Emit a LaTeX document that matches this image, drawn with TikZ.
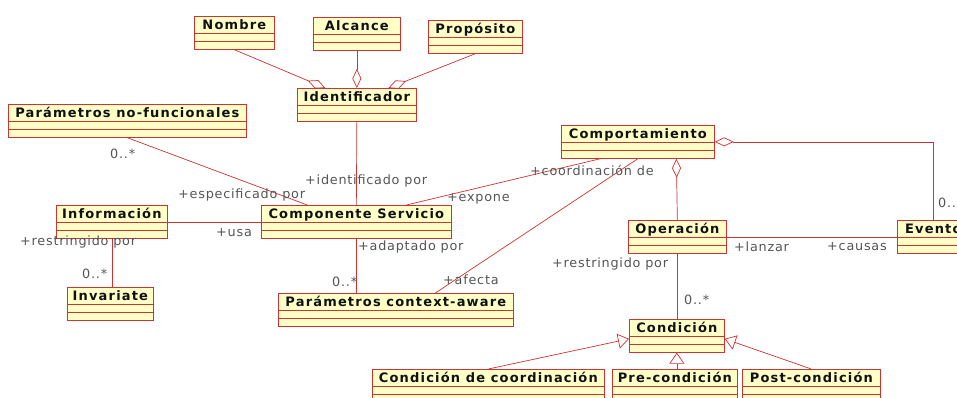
\documentclass[tikz,border=0pt]{standalone}
\usepackage{fontspec}
\setmainfont{DejaVu Sans}
\newfontfamily\umltitlefont{DejaVu Sans}[LetterSpace=9]
\newfontfamily\umlrolefont{DejaVu Sans}[LetterSpace=6]
\usetikzlibrary{arrows.meta}

\definecolor{umlred}{HTML}{CC3333}
\definecolor{umlfill}{HTML}{FFFFC8}
\definecolor{umlink}{HTML}{111111}
\definecolor{umlmute}{HTML}{555555}

% name, left, top, width, title
\newcommand{\umlclass}[5]{%
  \node[umlbox, minimum width=#4pt] (#1) at (#2,#3) {};
  \node[umltitle] (#1-t) at ([yshift=-13pt]#1.north) {#5};
  \draw[assoc] ([yshift=-17pt]#1.north west) -- ([yshift=-17pt]#1.north east)
               ([yshift=-25pt]#1.north west) -- ([yshift=-25pt]#1.north east);
}

\begin{document}
\begin{tikzpicture}[
  x=1pt, y=-1pt,
  umlbox/.style={draw=umlred, fill=umlfill, line width=0.7pt,
    minimum height=33pt, inner sep=0pt, anchor=north west},
  umltitle/.style={font=\umltitlefont\bfseries\fontsize{13}{15}\selectfont,
    text=umlink, inner sep=0pt, anchor=base},
  assoc/.style={draw=umlred, line width=0.7pt},
  aggr/.style={assoc, {Diamond[open,length=19pt,width=9pt]}-},
  gener/.style={assoc, -{Triangle[open,length=11pt,width=15pt]}},
  role/.style={font=\umlrolefont\fontsize{12.8}{14}\selectfont,
    text=umlmute, inner sep=0pt, anchor=west},
]
\useasboundingbox (0,0) rectangle (957,397);
\clip (0,0) rectangle (957,397);

\umlclass{nombre}{194}{16}{80}{Nombre}
\umlclass{alcance}{313}{17}{87}{Alcance}
\umlclass{proposito}{428}{20}{94}{Propósito}
\umlclass{ident}{297}{88}{119}{Identificador}
\umlclass{nofunc}{8}{104}{238}{Parámetros no-funcionales}
\umlclass{info}{56}{205}{111}{Información}
\umlclass{servicio}{261}{205}{190}{Componente Servicio}
\umlclass{invariate}{67}{287}{86}{Invariate}
\umlclass{ctxaware}{278}{293}{235}{Parámetros context-aware}
\umlclass{comport}{561}{125}{153}{Comportamiento}
\umlclass{operacion}{628}{220}{98}{Operación}
\umlclass{evento}{897}{220}{72}{Evento}
\umlclass{condicion}{629}{319}{95}{Condición}
\umlclass{coord}{372}{369}{232}{Condición de coordinación}
\umlclass{precond}{612}{369}{125}{Pre-condición}
\umlclass{postcond}{742}{369}{138}{Post-condición}

% aggregations
\draw[aggr] ([xshift=-31.5pt]ident.north) -- (nombre.south);
\draw[aggr] (ident.north) -- (alcance.south);
\draw[aggr] ([xshift=31.5pt]ident.north) -- (proposito.south);
\draw[aggr] ([xshift=38.5pt]comport.south) -- (operacion.north);
\draw[aggr] (comport.east) -| (evento.north);

% associations
\draw[assoc] (ident.south) -- (servicio.north);
\draw[assoc] (nofunc.south) -- ([xshift=-49pt]servicio.north);
\draw[assoc] (info.east) -- (servicio.west);
\draw[assoc] (info.south) -- (info.south |- invariate.north);
\draw[assoc] (servicio.south) -- (servicio.south |- ctxaware.north);
\draw[assoc] ([xshift=50pt]servicio.north) -- ([xshift=-37.5pt]comport.south);
\draw[assoc] (comport.south) -- ([xshift=39.5pt]ctxaware.north);
\draw[assoc] (operacion.east) -- (evento.west);
\draw[assoc] (operacion.south) -- (operacion.south |- condicion.north);

% generalizations
\draw[gener] (coord.north) -- ([yshift=-3pt]condicion.west);
\draw[gener] (condicion.south |- precond.north) -- (condicion.south);
\draw[gener] (postcond.north) -- ([yshift=-3pt]condicion.east);

% roles and multiplicities
\node[role] (r-ident) at (305,181) {+identificado por};
\node[role] (m-nofunc) at (110,154) {0..*};
\node[role] (r-espec) at (178,195) {+especificado por};
\node[role] (r-usa) at (216,233) {+usa};
\node[role] (r-restr1) at (20,242) {+restringido por};
\node[role] (m-invar) at (82,274) {0..*};
\node[role] (r-adapt) at (358,247) {+adaptado por};
\node[role] (m-ctx) at (332,282) {0..*};
\node[role] (r-afecta) at (443,280) {+afecta};
\node[role] (r-expone) at (447,199) {+expone};
\node[role] (r-coord) at (530,170) {+coordinación de};
\node[role] (m-evento) at (938,203) {0..*};
\node[role] (r-lanzar) at (734,247) {+lanzar};
\node[role] (r-causas) at (827,247) {+causas};
\node[role] (r-restr2) at (552,264) {+restringido por};
\node[role] (m-cond) at (684,300) {0..*};

\end{tikzpicture}
\end{document}
